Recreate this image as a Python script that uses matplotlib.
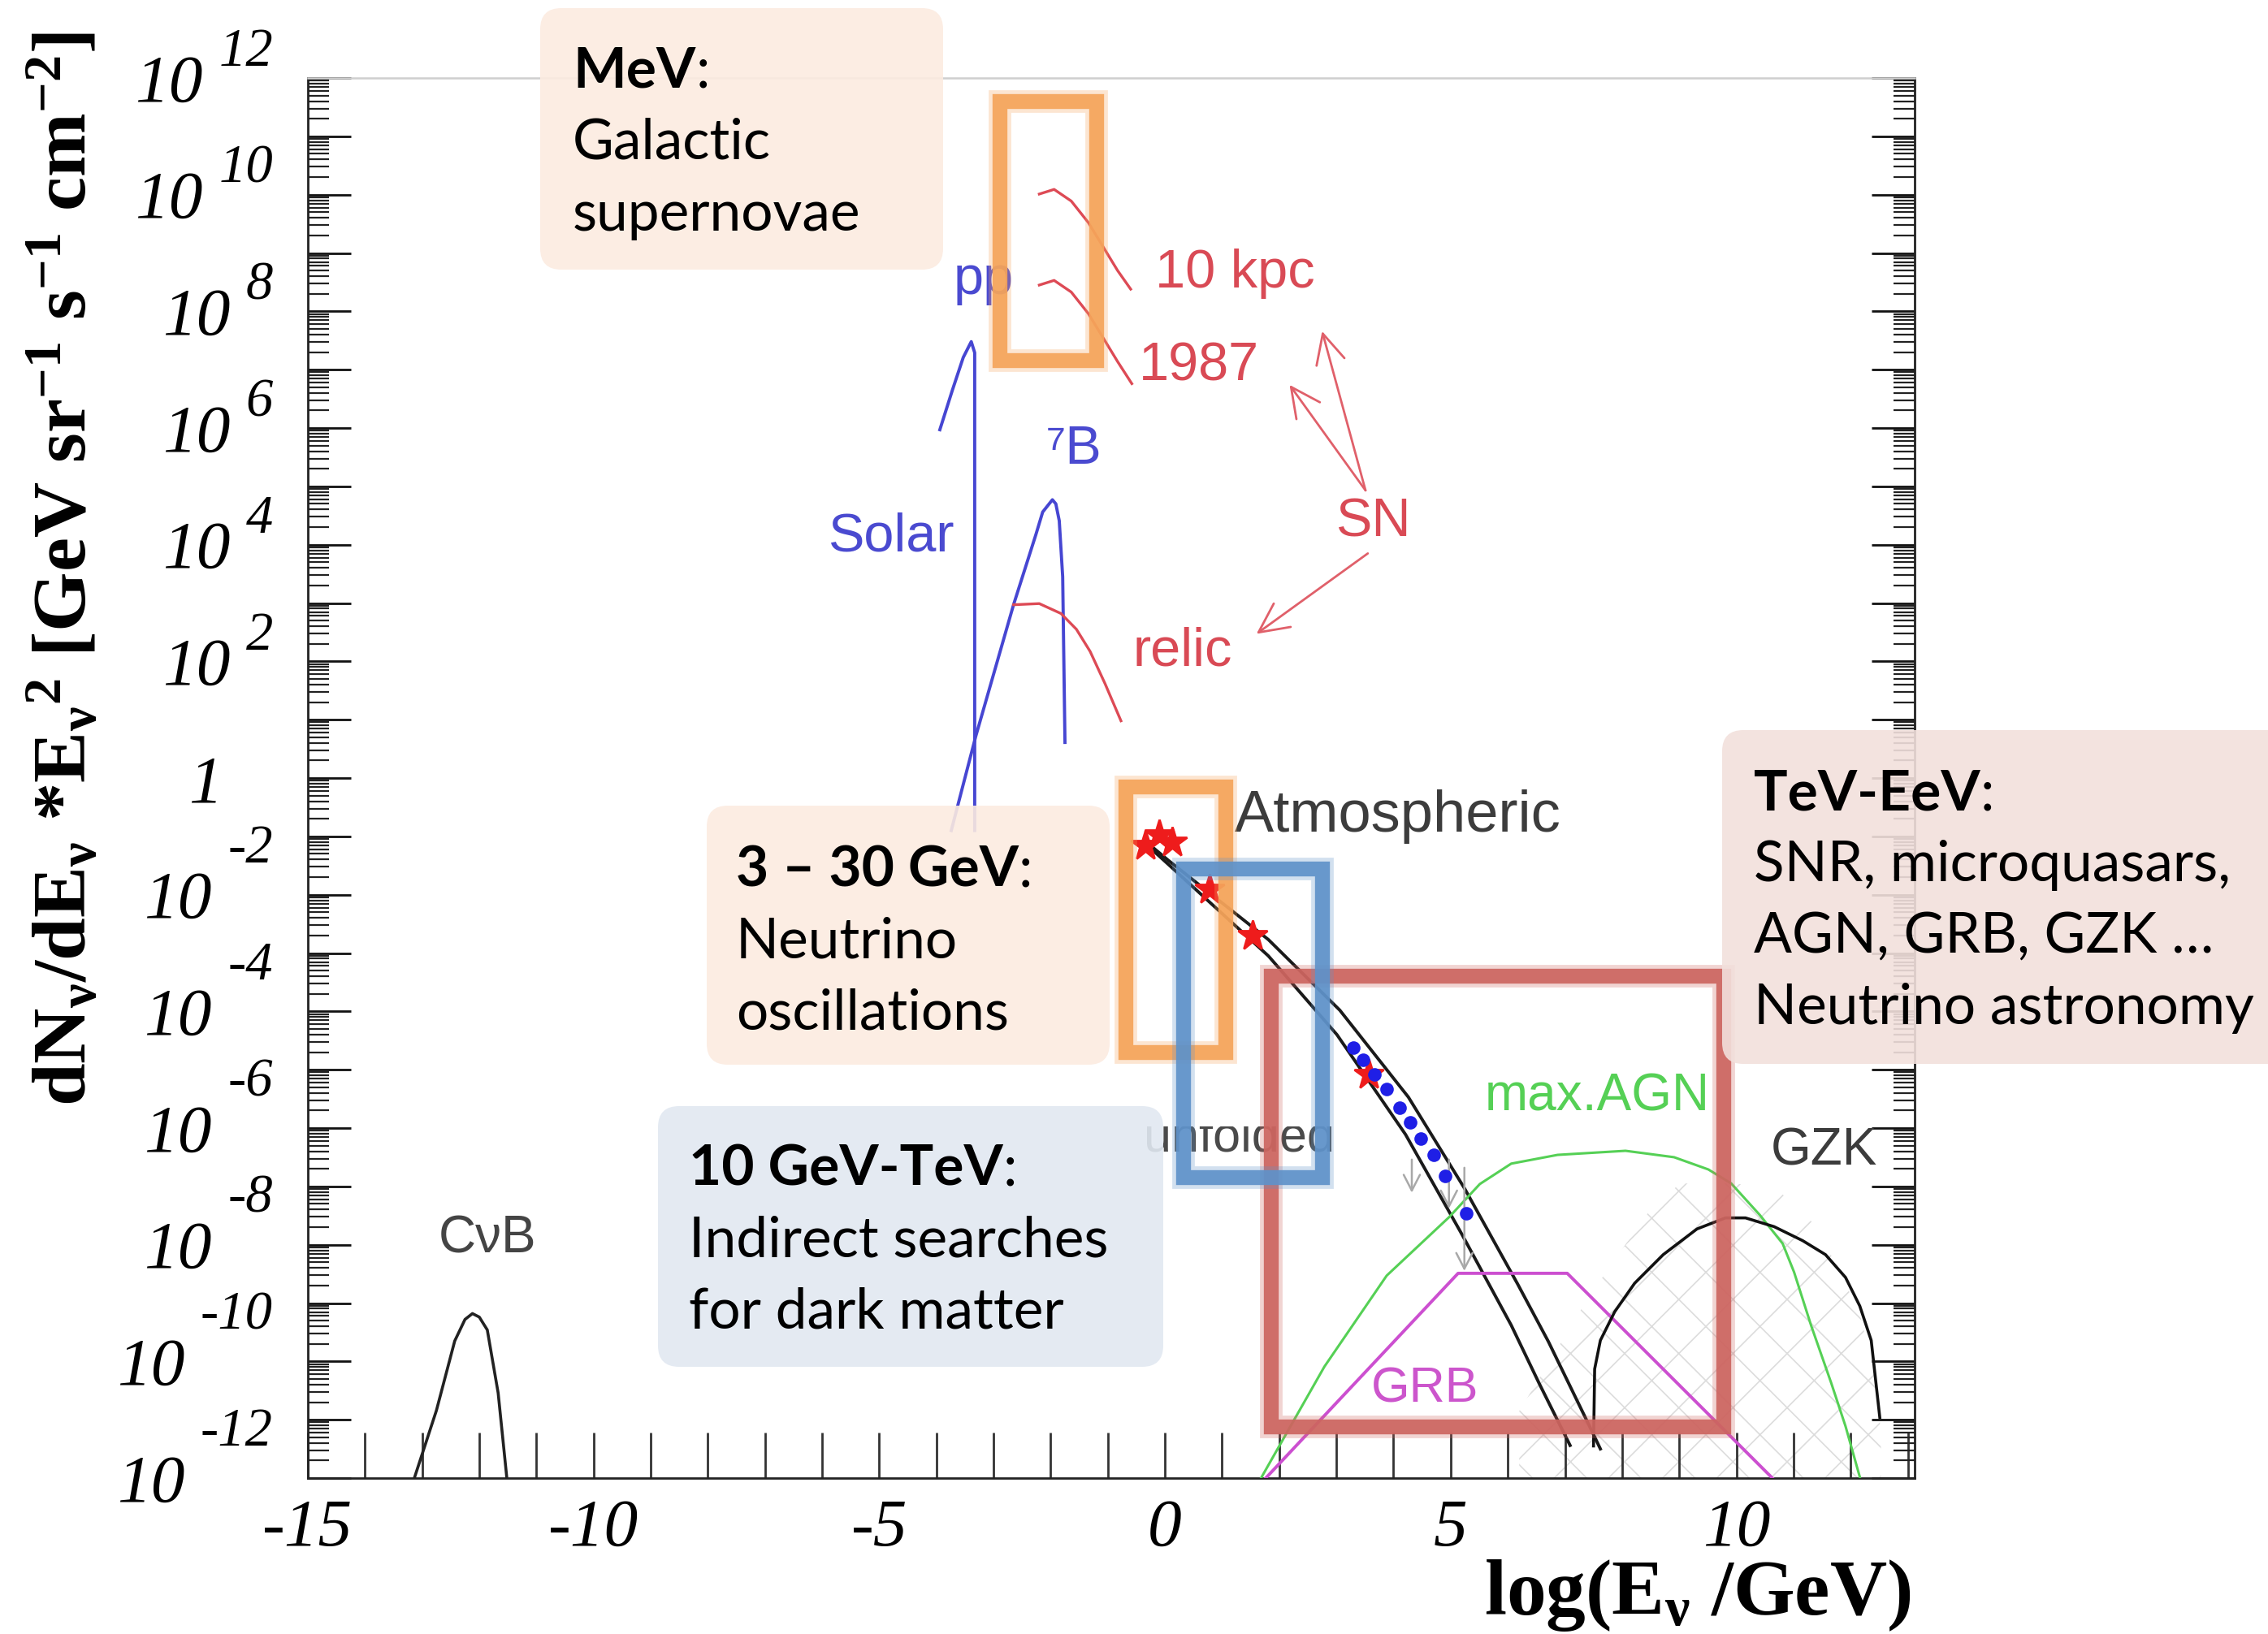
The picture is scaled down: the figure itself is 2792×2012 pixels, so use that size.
import numpy as np
import matplotlib
matplotlib.use("Agg")
import matplotlib.pyplot as plt
from matplotlib.patches import Rectangle, FancyBboxPatch
from matplotlib.text import Annotation
from matplotlib.ticker import FixedLocator, LogLocator, NullFormatter
from matplotlib.transforms import Bbox, TransformedBbox

plt.rcParams["mathtext.default"] = "regular"
plt.rcParams["hatch.linewidth"] = 0.6
plt.rcParams["axes.unicode_minus"] = False

DPI = 200
W_PX, H_PX = 2792, 2012
SERIF = "Liberation Serif"
SANS = ["Liberation Sans", "DejaVu Sans"]
BOXFONT = ["Lato", "DejaVu Sans"]

# ---- flux curves: x = log10(E / GeV), y = log10(dN/dE * E^2) ----
cnb_x = [-13.13, -12.75, -12.43, -12.25, -12.12, -12.00, -11.86, -11.67, -11.52]
cnb_y = [-11.98, -10.84, -9.65, -9.28, -9.18, -9.24, -9.46, -10.54, -11.98]

pp_x = [-3.94, -3.72, -3.53, -3.39, -3.33, -3.33]
pp_y = [5.97, 6.65, 7.21, 7.48, 7.29, -0.90]

b8_x = [-3.74, -3.31, -2.65, -2.26, -2.14, -1.97, -1.91, -1.85, -1.79, -1.75]
b8_y = [-0.90, 0.72, 2.97, 4.17, 4.56, 4.77, 4.70, 4.41, 3.45, 0.61]

relic_x = [-2.65, -2.20, -1.82, -1.55, -1.31, -1.05, -0.77]
relic_y = [2.97, 2.99, 2.82, 2.55, 2.17, 1.62, 0.98]

sn10_x = [-2.20, -1.94, -1.64, -1.34, -1.06, -0.83, -0.60]
sn10_y = [10.01, 10.09, 9.89, 9.52, 9.07, 8.70, 8.38]
sn87_x = [-2.20, -1.94, -1.64, -1.34, -1.06, -0.83, -0.58]
sn87_y = [8.45, 8.53, 8.33, 7.96, 7.51, 7.14, 6.76]

atm_hi_x = [-0.20, 0.07, 1.81, 3.06, 4.26, 5.24, 6.17, 6.71, 7.42, 7.62]
atm_hi_y = [-1.20, -1.42, -2.77, -3.98, -5.47, -7.03, -8.67, -9.66, -11.09, -11.50]
atm_lo_x = [-0.20, 0.07, 1.81, 3.01, 4.21, 5.19, 6.06, 6.55, 7.09]
atm_lo_y = [-1.25, -1.49, -3.05, -4.40, -6.11, -7.81, -9.38, -10.38, -11.44]

atm_data_x = [-0.35, -0.10, 0.12, 0.78, 1.54, 3.56]
atm_data_y = [-1.15, -0.98, -1.10, -1.91, -2.70, -5.08]

unf_x = [3.29, 3.47, 3.67, 3.88, 4.10, 4.29, 4.48, 4.70, 4.91, 5.27]
unf_y = [-4.62, -4.83, -5.08, -5.33, -5.65, -5.90, -6.18, -6.46, -6.82, -7.46]

lim_x = [4.32, 4.97, 5.24]
lim_top = [-6.54, -6.54, -6.68]
lim_bot = [-7.11, -7.38, -8.45]

agn_x = [1.60, 2.79, 3.88, 4.97, 5.51, 6.06, 6.87, 8.06, 8.91, 9.51, 9.91,
         10.41, 10.81, 11.01, 11.31, 11.66, 11.91, 12.16]
agn_y = [-12.14, -10.09, -8.53, -7.53, -6.96, -6.61, -6.46, -6.39, -6.50, -6.71,
         -6.95, -7.49, -7.98, -8.47, -9.39, -10.37, -11.11, -11.98]

grb_x = [1.63, 5.13, 7.04, 10.63]
grb_y = [-12.14, -8.49, -8.49, -12.00]

gzk_x = [7.50, 7.52, 7.62, 7.87, 8.22, 8.72, 9.31, 9.81, 10.16, 10.66, 11.16,
         11.56, 11.91, 12.16, 12.36, 12.51]
gzk_y = [-11.45, -10.13, -9.64, -9.15, -8.66, -8.17, -7.73, -7.54, -7.54, -7.69,
         -7.93, -8.17, -8.56, -9.05, -9.64, -10.96]

gzk_band_x = [6.20, 7.42, 8.42, 9.01, 9.91, 10.66, 11.41, 12.15, 12.40, 12.53]
gzk_band_y = [-10.85, -8.89, -7.49, -6.95, -6.95, -7.00, -7.69, -9.15, -10.13, -11.20]

# energy windows highlighted on the plot: (x0, x1, y0, y1) in log units
win_sn = (-2.89, -1.19, 7.15, 11.60)
win_osc = (-0.68, 1.07, -4.71, -0.15)
win_dm = (0.33, 2.76, -6.85, -1.56)
win_astro = (1.86, 9.78, -11.12, -3.40)

# axis ticks
xtick_vals = list(range(-15, 14))
xtick_labels = [str(v) if v % 5 == 0 else "" for v in xtick_vals]
ytick_exps = list(range(-12, 13, 2))


def P(a):
    return 10.0 ** np.asarray(a, dtype=float)


fig = plt.figure(figsize=(W_PX / DPI, H_PX / DPI), dpi=DPI)
fig.patch.set_facecolor("white")
ax = fig.add_axes([379 / W_PX, 1 - 1820 / H_PX, (2357 - 379) / W_PX, (1820 - 96) / H_PX])
ax.set_yscale("log")
ax.set_xlim(-15, 13.12)
ax.set_ylim(1e-12, 1e12)

# ---- axes styling ----
for side in ("left", "right", "bottom"):
    ax.spines[side].set_color("#222222")
    ax.spines[side].set_linewidth(1.0)
ax.spines["top"].set_color("#cfcfcf")
ax.spines["top"].set_linewidth(0.9)

ax.xaxis.set_major_locator(FixedLocator(xtick_vals))
ax.set_xticks(xtick_vals, xtick_labels, fontfamily=SERIF, fontstyle="italic", fontsize=30)
ax.tick_params(axis="x", which="major", direction="in", length=20, width=1.0,
               color="#333333", top=False, bottom=True, pad=9)
ax.tick_params(axis="x", which="minor", bottom=False, top=False)

ax.yaxis.set_major_locator(LogLocator(base=10, numticks=60))
ax.yaxis.set_minor_locator(LogLocator(base=10, subs=np.arange(2, 10), numticks=600))
ax.yaxis.set_major_formatter(NullFormatter())
ax.yaxis.set_minor_formatter(NullFormatter())
ax.tick_params(axis="y", which="major", direction="in", length=19, width=1.0,
               color="#111111", left=True, right=True)
ax.tick_params(axis="y", which="minor", direction="in", length=9.5, width=0.8,
               color="#222222", left=True, right=True)

# y tick labels in "10" + raised exponent form
ytr = ax.get_yaxis_transform()
for k in ytick_exps:
    if k == 0:
        ax.annotate("1", xy=(0, 10.0 ** k), xycoords=ytr, xytext=(-38, -10.5),
                    textcoords="offset points", ha="right", va="baseline",
                    fontfamily=SERIF, fontstyle="italic", fontsize=30)
        continue
    rise = 5.3 if k > 0 else 14.3
    ex = ax.annotate(str(k), xy=(0, 10.0 ** k), xycoords=ytr, xytext=(-15.5, rise),
                     textcoords="offset points", ha="right", va="baseline",
                     fontfamily=SERIF, fontstyle="italic", fontsize=24)
    ax.annotate("10", xy=(0, 10.0 ** k), xycoords=(ex, ytr), xytext=(-7, -10.2),
                textcoords="offset points", ha="right", va="baseline",
                fontfamily=SERIF, fontstyle="italic", fontsize=30)

# ---- curves ----
ax.fill_between(gzk_band_x, 1e-12, P(gzk_band_y), facecolor="none",
                edgecolor="#dcdcdc", hatch="x", linewidth=0, zorder=1)

ax.plot(cnb_x, P(cnb_y), color="#222222", lw=1.3, zorder=3)
ax.plot(pp_x, P(pp_y), color="#4646d2", lw=1.4, zorder=3)
ax.plot(b8_x, P(b8_y), color="#4646d2", lw=1.4, zorder=3)
ax.plot(relic_x, P(relic_y), color="#dd4a55", lw=1.2, zorder=3)
ax.plot(sn10_x, P(sn10_y), color="#dd4a55", lw=1.2, zorder=3)
ax.plot(sn87_x, P(sn87_y), color="#dd4a55", lw=1.2, zorder=3)

ax.plot(atm_hi_x, P(atm_hi_y), color="#1a1a1a", lw=1.4, zorder=3)
ax.plot(atm_lo_x, P(atm_lo_y), color="#1a1a1a", lw=1.4, zorder=3)
ax.plot(agn_x, P(agn_y), color="#55d055", lw=1.1, zorder=3)
ax.plot(grb_x, P(grb_y), color="#cc4fd0", lw=1.4, zorder=3)
ax.plot(gzk_x, P(gzk_y), color="#111111", lw=1.3, zorder=3)

for xv, yt, yb in zip(lim_x, lim_top, lim_bot):
    ax.annotate("", xy=(xv, 10.0 ** yb), xytext=(xv, 10.0 ** yt),
                arrowprops=dict(arrowstyle="->,head_length=0.35,head_width=0.18",
                                color="#a8a8a8", lw=0.9, mutation_scale=20,
                                shrinkA=0, shrinkB=0), zorder=3)

ax.plot(unf_x, P(unf_y), linestyle="none", marker="o", ms=6, color="#1f1fe6",
        mec="none", zorder=5)
ax.plot(atm_data_x, P(atm_data_y), linestyle="none", marker="*", ms=14,
        color="#ee1c1c", mec="#ee1c1c", zorder=4)

# ---- curve labels ----
def label(x, y, s, color, size, ha="center", va="center", **kw):
    return ax.text(x, 10.0 ** y, s, color=color, fontsize=size, ha=ha, va=va,
                   fontfamily=SANS, zorder=4, **kw)

label(-3.18, 8.53, "pp", "#4a4ad0", 24)
label(-1.59, 5.62, "\u2077B", "#4a4ad0", 24)
label(-4.80, 4.13, "Solar", "#4a4ad0", 24)
label(1.22, 8.65, "10 kpc", "#d94a55", 24)
label(0.59, 7.05, "1987", "#d94a55", 24)
label(3.64, 4.38, "SN", "#d94a55", 24)
label(0.31, 2.17, "relic", "#d94a55", 24)
label(1.22, -0.655, "Atmospheric", "#3c3c3c", 26, ha="left")
label(7.57, -5.47, "max.AGN", "#55d055", 23)
label(11.53, -6.39, "GZK", "#3c3c3c", 23)
label(4.55, -10.48, "GRB", "#cc55cc", 22)
label(-11.86, -7.90, "C\u03bdB", "#444444", 23)

# the "unfolded" tag only shows its lower part
unf = label(2.97, -6.39, "unfolded", "#4a4a4a", 22, ha="right", va="baseline")
unf.set_clip_box(TransformedBbox(Bbox([[-15, 1e-13], [13.12, 10 ** -5.97]]), ax.transData))
unf.set_clip_on(True)

sn_arrows = [((3.51, 4.93), (2.75, 7.66)),
             ((3.51, 4.93), (2.18, 6.74)),
             ((3.55, 3.85), (1.60, 2.47))]
for (tx, ty), (hx, hy) in sn_arrows:
    ax.annotate("", xy=(hx, 10.0 ** hy), xytext=(tx, 10.0 ** ty),
                arrowprops=dict(arrowstyle="->,head_length=0.65,head_width=0.32",
                                color="#e0606a", lw=1.0, mutation_scale=20,
                                shrinkA=0, shrinkB=0), zorder=4)

# ---- highlighted energy windows ----
def window(bounds, color):
    x0, x1, y0, y1 = bounds
    for lw, alpha in ((10.0, 0.28), (6.6, 0.92)):
        ax.add_patch(Rectangle((x0, 10.0 ** y0), x1 - x0, 10.0 ** y1 - 10.0 ** y0,
                               fill=False, edgecolor=color, lw=lw, alpha=alpha,
                               joinstyle="miter", clip_on=False, zorder=6))

window(win_astro, "#cd6560")
window(win_sn, "#f5a45a")
window(win_osc, "#f5a45a")
window(win_dm, "#5f92c9")

# ---- axis titles ----
fig.text(80 / W_PX, 1 - 700 / H_PX,
         r"dN$_{\nu}$/dE$_{\nu}$ *E$_{\nu}$$^{2}$ [GeV sr$^{-1}$ s$^{-1}$ cm$^{-2}$]",
         rotation=90, ha="center", va="center", fontfamily=SERIF,
         fontweight="bold", fontsize=34)
fig.text(2352 / W_PX, 1 - 1988 / H_PX, r"log(E$_{\nu}$ /GeV)", ha="right",
         va="baseline", fontfamily=SERIF, fontweight="bold", fontsize=35)

# ---- explanatory boxes ----
BOX_FS = 25
LINE_STEP = 88


def info_box(x0, y0, x1, y1, color, head, lines, tx, ty):
    patch = FancyBboxPatch((x0 / DPI, (H_PX - y1) / DPI), (x1 - x0) / DPI, (y1 - y0) / DPI,
                           boxstyle="round,pad=0,rounding_size=0.13",
                           transform=fig.dpi_scale_trans, facecolor=color,
                           edgecolor="none", alpha=0.9, zorder=5)
    fig.add_artist(patch)
    t = fig.text(tx / DPI, (H_PX - ty) / DPI, head, transform=fig.dpi_scale_trans,
                 fontfamily=BOXFONT, fontweight="bold", fontsize=BOX_FS,
                 ha="left", va="baseline", zorder=6)
    fig.add_artist(Annotation(":", xy=(1, 0), xycoords=t, xytext=(0, 0),
                              textcoords="offset points", ha="left", va="bottom",
                              fontfamily=BOXFONT, fontsize=BOX_FS, zorder=6))
    for i, s in enumerate(lines, start=1):
        fig.text(tx / DPI, (H_PX - ty - i * LINE_STEP) / DPI, s,
                 transform=fig.dpi_scale_trans, fontfamily=BOXFONT,
                 fontsize=BOX_FS, ha="left", va="baseline", zorder=6)


info_box(665, 10, 1161, 332, "#fcebe0", "MeV", ["Galactic", "supernovae"], 705, 108)
info_box(870, 992, 1366, 1311, "#fcebe0", "3 \u2013 30 GeV",
         ["Neutrino", "oscillations"], 906, 1091)
info_box(810, 1362, 1432, 1683, "#e1e8f1", "10 GeV-TeV",
         ["Indirect searches", "for dark matter"], 848, 1460)
info_box(2120, 899, 2830, 1310, "#f2e0dc", "TeV-EeV",
         ["SNR, microquasars,", "AGN, GRB, GZK \u2026", "Neutrino astronomy"], 2159, 997)

fig.savefig("out.png", dpi=DPI, facecolor="white")
